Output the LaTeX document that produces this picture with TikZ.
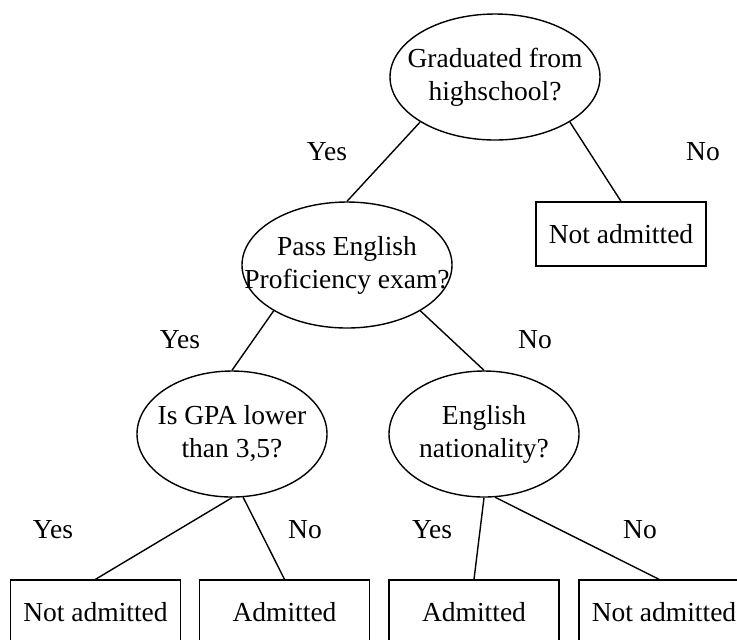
\documentclass[tikz,border=0pt]{standalone}
\usepackage{fontspec}
\setmainfont{Liberation Serif}
\usetikzlibrary{shapes.geometric}
\newcommand{\treefont}{\fontsize{13.75pt}{16.5pt}\selectfont}
\tikzset{
  every node/.style={font=\treefont},
  question/.style={draw, ellipse, line width=0.7pt, minimum width=105pt, minimum height=63pt, inner sep=0pt},
  question2/.style={question, minimum width=95pt},
  leaf/.style={draw, rectangle, line width=0.7pt, minimum width=85pt, minimum height=32pt, inner sep=0pt},
  branch/.style={line width=0.7pt}
}
\begin{document}
\begin{tikzpicture}[x=0.5pt,y=-0.5pt]
        \path[use as bounding box, clip] (0,0) rectangle (737,639);
        % questions
        \node[question, label={[align=center]center:Graduated from\\highschool?}] (grad) at (495,77) {};
        \node[question, label={[align=center]center:Pass English\\Proficiency exam?}] (pass) at (347,265) {};
        \node[question2, label={[align=center]center:Is GPA lower\\than 3,5?}] (gpa) at (232,434) {};
        \node[question2, label={[align=center]center:English\\nationality?}] (nation) at (484,434) {};
        % answers
        \node[leaf] (nohigh) at (621,234) {Not admitted};
        \node[leaf] (lowgpa) at (95.5,612) {Not admitted};
        \node[leaf] (highgpa) at (284.5,612) {Admitted};
        \node[leaf] (english) at (474,612) {Admitted};
        \node[leaf] (foreign) at (664,612) {Not admitted};
        % branches
        \draw[branch] (grad.211) -- (pass.north);
        \draw[branch] (grad.329) -- (nohigh.north);
        \draw[branch] (pass.212) -- (gpa.north);
        \draw[branch] (pass.328) -- (nation.north);
        \draw[branch] (gpa.270) -- (lowgpa.north);
        \draw[branch] (gpa.280) -- (highgpa.north);
        \draw[branch] (nation.270) -- (english.north);
        \draw[branch] (nation.280) -- ([xshift=-2.5pt]foreign.north);
        % yes / no
        \node (y1) at (327,152) {Yes};
        \node (n1) at (703,152) {No};
        \node (y2) at (180,340) {Yes};
        \node (n2) at (535,340) {No};
        \node (y3) at (53,530) {Yes};
        \node (n3) at (305,530) {No};
        \node (y4) at (432,530) {Yes};
        \node (n4) at (640,530) {No};
    \end{tikzpicture}
\end{document}
